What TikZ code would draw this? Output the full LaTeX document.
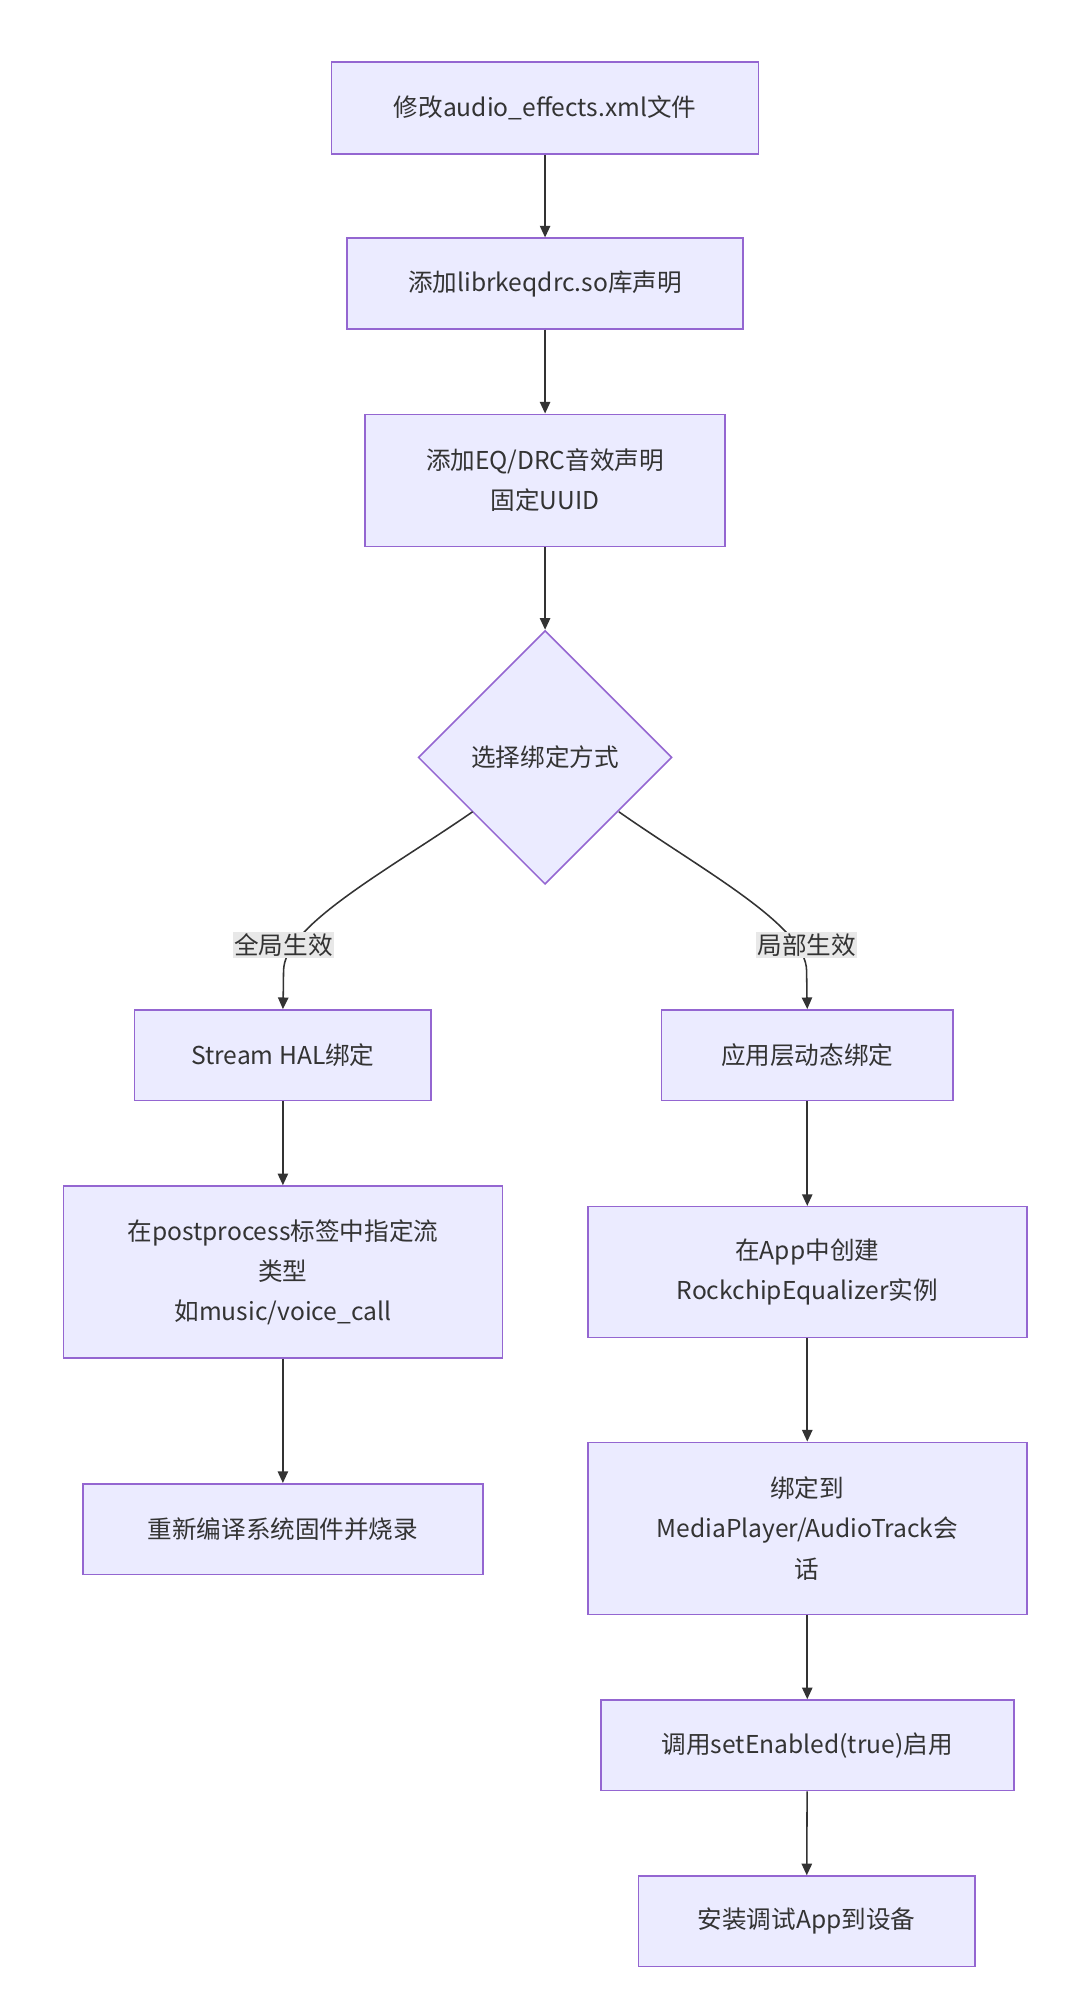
\documentclass[tikz,border=0pt]{standalone}
\usepackage{fontspec}
\setmainfont{Noto Sans CJK SC}
\usetikzlibrary{shapes.geometric,arrows.meta}
\begin{document}
\begin{tikzpicture}[x=1pt,y=-1pt,
  box/.style={draw=violet!60!blue!60,line width=1.2pt,fill=blue!8,align=center,font=\fontsize{19}{31}\selectfont,text=black!80,inner sep=0pt},
  lbl/.style={fill=black!9,font=\fontsize{19}{24}\selectfont,text=black!80,inner sep=1pt},
  arr/.style={draw=black!80,line width=1.2pt,-{Triangle[length=9pt,width=8pt]}}]
\useasboundingbox (0,0) rectangle (834,1554);
\node[box,minimum width=330,minimum height=71] (A) at (421,83.5) {修改audio\_effects.xml文件};
\node[box,minimum width=306,minimum height=70] (B) at (421,219) {添加librkeqdrc.so库声明};
\node[box,minimum width=278,minimum height=102] (C) at (421,371) {添加EQ/DRC音效声明\\固定UUID};
\node[box,diamond,minimum width=196,minimum height=196] (D) at (421,585) {选择绑定方式};
\node[box,minimum width=229,minimum height=70] (E) at (218.5,815) {Stream HAL绑定};
\node[box,minimum width=339,minimum height=133] (F) at (218.5,982.5) {在postprocess标签中指定流\\类型\\如music/voice\_call};
\node[box,minimum width=309,minimum height=70] (G) at (218.5,1181) {重新编译系统固件并烧录};
\node[box,minimum width=225,minimum height=70] (H) at (623.5,815) {应用层动态绑定};
\node[box,minimum width=339,minimum height=101] (I) at (623.5,982.5) {在App中创建\\RockchipEqualizer实例};
\node[box,minimum width=339,minimum height=133] (J) at (623.5,1180.5) {绑定到\\MediaPlayer/AudioTrack会\\话};
\node[box,minimum width=319,minimum height=70] (K) at (623.5,1348) {调用setEnabled(true)启用};
\node[box,minimum width=260,minimum height=70] (L) at (623,1484) {安装调试App到设备};
\draw[arr] (A) -- (B);
\draw[arr] (B) -- (C);
\draw[arr] (C) -- (D);
\draw[arr] (E) -- (F);
\draw[arr] (F) -- (G);
\draw[arr] (H) -- (I);
\draw[arr] (I) -- (J);
\draw[arr] (J) -- (K);
\draw[arr] (K) -- (L);
\coordinate (d1) at (365,627);
\coordinate (d2) at (478,627);
\draw[arr] (d1) .. controls (300,672) and (219,715) .. (219,750) .. controls (219,760) .. (E.north);
\draw[arr] (d2) .. controls (542,672) and (623,715) .. (623,750) .. controls (623,760) .. (H.north);
\node[lbl] (l1) at (219,730) {全局生效};
\node[lbl] (l2) at (623,730) {局部生效};
\end{tikzpicture}
\end{document}
